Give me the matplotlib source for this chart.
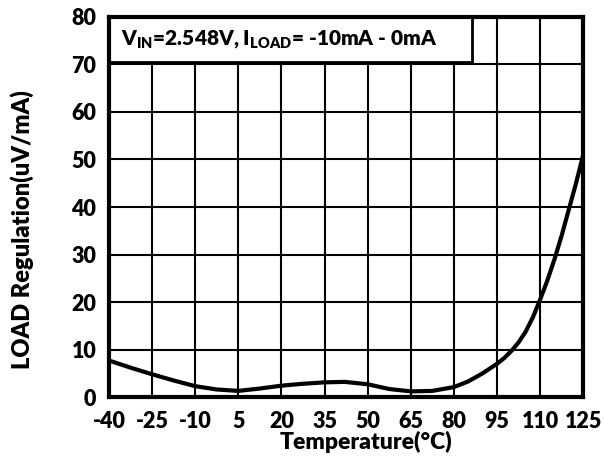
import matplotlib
matplotlib.use("Agg")
import matplotlib.pyplot as plt
from matplotlib.patches import Rectangle
from matplotlib import rcParams

rcParams['font.family'] = ['Lato', 'DejaVu Sans']
rcParams['font.weight'] = 'heavy'
rcParams['axes.unicode_minus'] = False
rcParams['mathtext.fontset'] = 'custom'
rcParams['mathtext.rm'] = 'Lato:heavy'
rcParams['mathtext.it'] = 'Lato:heavy'
rcParams['mathtext.bf'] = 'Lato:heavy'
rcParams['mathtext.default'] = 'rm'

# readings
temps = [-40, -32.5, -25, -17.5, -10, -2.5, 5, 12.5, 20, 27.5, 35, 42, 50, 57.5, 65,
         72.5, 80, 85, 90, 95, 97.5, 100, 102.5, 105, 107.5, 110, 112.5, 115, 117.5, 120,
         122.5, 125]
load_reg = [7.7, 6.2, 4.8, 3.5, 2.3, 1.6, 1.3, 1.8, 2.4, 2.8, 3.1, 3.2, 2.7, 1.7, 1.2,
            1.3, 2.1, 3.3, 5.0, 7.0, 8.2, 9.7, 11.5, 13.8, 16.8, 20.5, 24.5, 29.0, 34.0, 39.5,
            45.0, 51.0]

x_ticks = [-40, -25, -10, 5, 20, 35, 50, 65, 80, 95, 110, 125]
y_ticks = [0, 10, 20, 30, 40, 50, 60, 70, 80]

fig = plt.figure(figsize=(6.05, 4.58), dpi=100)
ax = fig.add_axes([0.180, 0.133, 0.784, 0.830])

ax.plot(temps, load_reg, color='black', lw=3, solid_joinstyle='round',
        solid_capstyle='round', zorder=3)

ax.set_xlim(-40, 125)
ax.set_ylim(0, 80)
ax.set_xticks(x_ticks)
ax.set_yticks(y_ticks)
ax.grid(True, color='black', lw=1.5)
ax.set_axisbelow(True)
ax.tick_params(length=0, labelsize=15.5)
ax.tick_params(axis='x', pad=10)
ax.tick_params(axis='y', pad=9)
for s in ax.spines.values():
  s.set_linewidth(3)
  s.set_zorder(5)

ax.set_xlabel('Temperature(°C)', fontsize=16.5, fontweight='heavy')
ax.set_ylabel('LOAD Regulation(uV/mA)', fontsize=17, fontweight='heavy')
ax.xaxis.set_label_coords(0.542, -0.088)
ax.yaxis.set_label_coords(-0.158, 0.44)

# condition box in the top-left corner
ax.add_patch(Rectangle((0, 0.882), 0.766, 0.118, transform=ax.transAxes,
                       facecolor='white', edgecolor='black', lw=2, zorder=4))
ax.text(0.026, 0.941, '$V_{IN}$=2.548V, $I_{LOAD}$= -10mA - 0mA', transform=ax.transAxes,
        fontsize=15, va='center', ha='left', zorder=6)

fig.savefig('out.png', dpi=100)
